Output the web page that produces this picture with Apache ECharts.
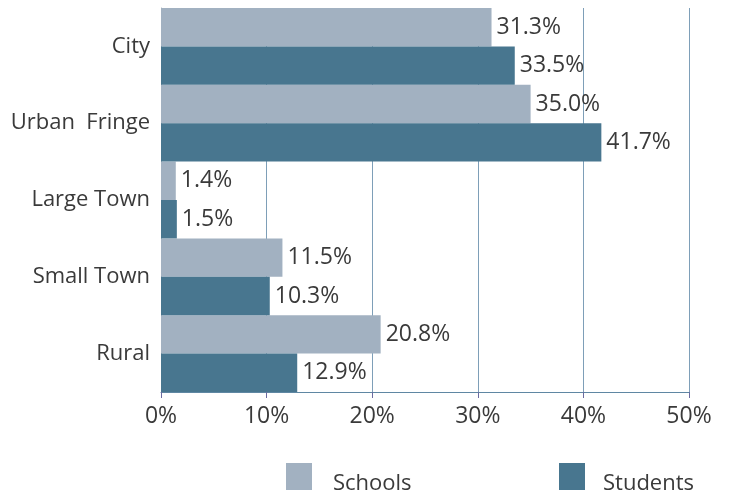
<!DOCTYPE html>
<html>
<head>
<meta charset="utf-8">
<script src="https://cdn.jsdelivr.net/npm/echarts@6/dist/echarts.min.js"></script>
<style>
  html, body { margin: 0; padding: 0; background: #ffffff; }
  #chart { width: 729px; height: 496px; }
</style>
</head>
<body>
<div id="chart"></div>
<script>
// Share of schools and students by locale type
const categories = ['City', 'Urban  Fringe', 'Large Town', 'Small Town', 'Rural'];
const schools = [31.3, 35.0, 1.4, 11.5, 20.8];
const students = [33.5, 41.7, 1.5, 10.3, 12.9];
const xTicks = [0, 10, 20, 30, 40, 50];

const FONT = '"Open Sans", "Noto Sans", sans-serif';
const TEXT = '#3a3a3a';

const chart = echarts.init(document.getElementById('chart'), null, { renderer: 'canvas' });

const labelOpt = {
  show: true,
  position: 'right',
  distance: 5,
  color: TEXT,
  fontFamily: FONT,
  fontSize: 23,
  formatter: p => p.value.toFixed(1) + '%'
};

// legend text sits a little below the middle of its swatch
function legendText(gapLeft) {
  return {
    color: TEXT,
    fontFamily: FONT,
    fontSize: 22,
    rich: {
      t: { color: TEXT, fontFamily: FONT, fontSize: 22, padding: [14, 0, 0, gapLeft] }
    }
  };
}

chart.setOption({
  animation: false,
  backgroundColor: '#ffffff',
  grid: { left: 161, right: 40, top: 8, bottom: 104, containLabel: false },
  xAxis: {
    type: 'value',
    min: xTicks[0],
    max: xTicks[xTicks.length - 1],
    interval: xTicks[1] - xTicks[0],
    axisLine: { show: true, lineStyle: { color: '#5f87a3', width: 1 } },
    axisTick: { show: true, length: 6, lineStyle: { color: '#6a6aa0', width: 1 } },
    axisLabel: {
      color: TEXT, fontFamily: FONT, fontSize: 23, margin: 13,
      formatter: v => v + '%'
    },
    splitLine: { show: true, lineStyle: { color: '#7e9fb8', width: 1 } }
  },
  yAxis: {
    type: 'category',
    data: categories,
    inverse: true,
    axisLine: { show: true, lineStyle: { color: '#a9b2bb', width: 1 } },
    axisTick: { show: false },
    axisLabel: { color: TEXT, fontFamily: FONT, fontSize: 22, margin: 11 }
  },
  legend: [
    {
      data: ['Schools'],
      left: 281, top: 458,
      itemWidth: 26, itemHeight: 27,
      icon: 'rect',
      formatter: '{t|{name}}',
      textStyle: legendText(16)
    },
    {
      data: ['Students'],
      left: 554, top: 458,
      itemWidth: 26, itemHeight: 27,
      icon: 'rect',
      formatter: '{t|{name}}',
      textStyle: legendText(13)
    }
  ],
  series: [
    {
      name: 'Schools',
      type: 'bar',
      data: schools,
      barGap: '0%',
      barCategoryGap: '0%',
      itemStyle: { color: '#a2b1c1' },
      label: labelOpt
    },
    {
      name: 'Students',
      type: 'bar',
      data: students,
      itemStyle: { color: '#48768f' },
      label: labelOpt
    }
  ]
});
</script>
</body>
</html>
